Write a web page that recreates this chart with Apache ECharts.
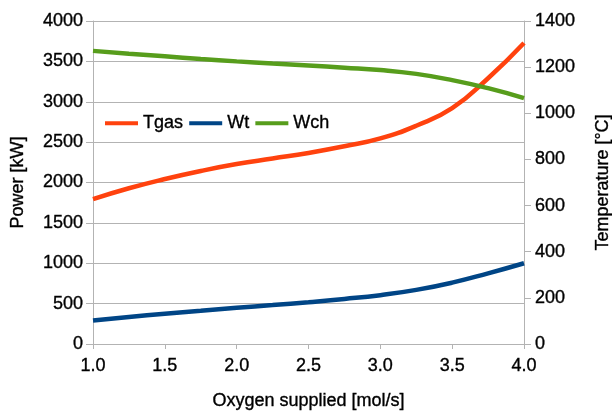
<!DOCTYPE html>
<html>
<head>
<meta charset="utf-8">
<script src="https://cdn.jsdelivr.net/npm/echarts@6/dist/echarts.min.js"></script>
<style>
html,body{margin:0;padding:0;background:#fff;}
#chart{width:612px;height:411px;}
</style>
</head>
<body>
<div id="chart"></div>
<script>
var oxygen = [1.0, 1.25, 1.5, 1.75, 2.0, 2.25, 2.5, 2.75, 3.0, 3.25, 3.5, 3.75, 4.0];
var tgas   = [628, 675, 715, 750, 780, 804, 828, 857, 891, 946, 1022, 1152, 1305];
var wt     = [290, 335, 375, 412, 448, 482, 518, 558, 605, 670, 760, 875, 1000];
var wch    = [3630, 3595, 3562, 3530, 3500, 3473, 3448, 3422, 3393, 3345, 3268, 3168, 3045];

function pairs(xs, ys){ return xs.map(function(x,i){ return [x, ys[i]]; }); }

var font = 'Liberation Sans, Arial, sans-serif';
var txt = {fontFamily: font, fontSize: 18, color: '#000', textBorderColor: '#000', textBorderWidth: 0.35};
var chart = echarts.init(document.getElementById('chart'), null, {renderer:'canvas'});
chart.setOption({
  animation: false,
  backgroundColor: '#ffffff',
  textStyle: {fontFamily: font, color: '#000'},
  grid: {left: 93, right: 88, top: 21, bottom: 67, containLabel: false, outerBoundsMode: 'none'},
  legend: {
    left: 100, top: 109, icon: 'rect',
    itemWidth: 33, itemHeight: 4, itemGap: 6,
    textStyle: txt,
    data: ['Tgas', 'Wt', 'Wch']
  },
  xAxis: {
    type: 'value', min: 1, max: 4, interval: 0.5,
    name: 'Oxygen supplied [mol/s]', nameLocation: 'middle', nameGap: 48,
    nameTextStyle: txt,
    axisLine: {lineStyle: {color: '#b3b3b3'}},
    axisTick: {show: true, length: 5, lineStyle: {color: '#b3b3b3'}},
    axisLabel: Object.assign({margin: 13, formatter: function(v){ return v.toFixed(1); }}, txt),
    splitLine: {show: false}
  },
  yAxis: [{
    type: 'value', min: 0, max: 4000, interval: 500, position: 'left',
    name: 'Power [kW]', nameLocation: 'middle', nameGap: 66, nameRotate: 90,
    nameTextStyle: txt,
    axisLine: {show: true, lineStyle: {color: '#b3b3b3'}},
    axisTick: {show: true, length: 7, lineStyle: {color: '#b3b3b3'}},
    axisLabel: Object.assign({margin: 10, formatter: function(v){ return String(v); }}, txt),
    splitLine: {show: true, lineStyle: {color: '#b3b3b3', width: 1}}
  }, {
    type: 'value', min: 0, max: 1400, interval: 200, position: 'right',
    name: 'Temperature [°C]', nameLocation: 'middle', nameGap: 70, nameRotate: 90,
    nameTextStyle: txt,
    axisLine: {show: true, lineStyle: {color: '#b3b3b3'}},
    axisTick: {show: true, length: 7, lineStyle: {color: '#b3b3b3'}},
    axisLabel: Object.assign({margin: 11, formatter: function(v){ return String(v); }}, txt),
    splitLine: {show: false}
  }],
  series: [{
    name: 'Tgas', type: 'line', yAxisIndex: 1, smooth: true, symbol: 'none',
    data: pairs(oxygen, tgas),
    lineStyle: {color: '#ff420e', width: 4.5}, itemStyle: {color: '#ff420e'}, z: 3
  }, {
    name: 'Wt', type: 'line', yAxisIndex: 0, smooth: true, symbol: 'none',
    data: pairs(oxygen, wt),
    lineStyle: {color: '#004586', width: 4.5}, itemStyle: {color: '#004586'}
  }, {
    name: 'Wch', type: 'line', yAxisIndex: 0, smooth: true, symbol: 'none',
    data: pairs(oxygen, wch),
    lineStyle: {color: '#579d1c', width: 4.5}, itemStyle: {color: '#579d1c'}
  }]
});
</script>
</body>
</html>
